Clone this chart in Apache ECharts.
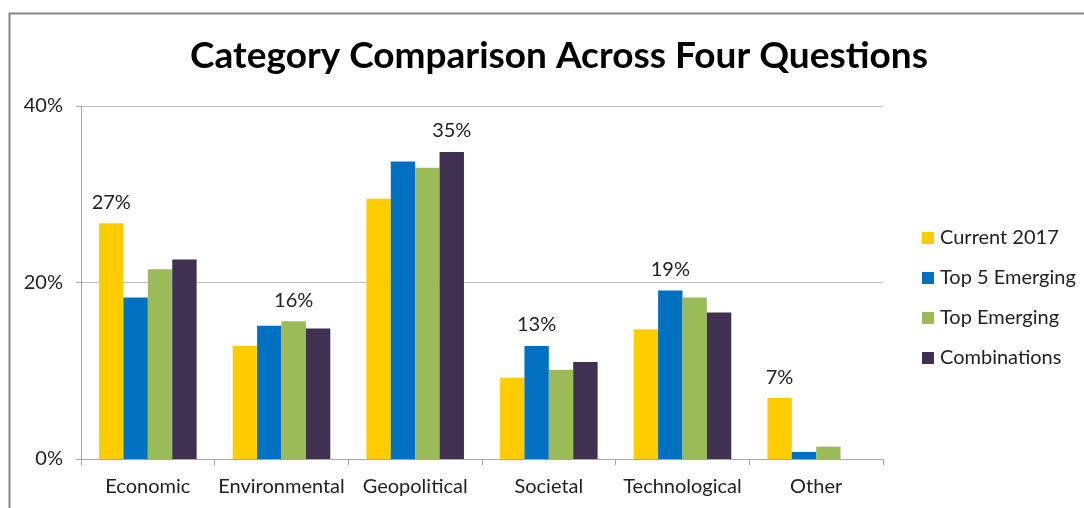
<!DOCTYPE html>
<html>
<head>
<meta charset="utf-8">
<script src="https://cdn.jsdelivr.net/npm/echarts@6/dist/echarts.min.js"></script>
<style>html,body{margin:0;padding:0;background:#fff;}#c{width:1084px;height:508px;}</style>
</head>
<body>
<div id="c"></div>
<script>
const categories = ['Economic', 'Environmental', 'Geopolitical', 'Societal', 'Technological', 'Other'];
const seriesNames = ['Current 2017', 'Top 5 Emerging', 'Top Emerging', 'Combinations'];
const current2017 = [26.7, 12.8, 29.5, 9.2, 14.7, 6.9];
const top5Emerging = [18.3, 15.1, 33.7, 12.8, 19.1, 0.8];
const topEmerging = [21.5, 15.6, 33.0, 10.1, 18.3, 1.4];
const combinations = [22.6, 14.8, 34.8, 11.0, 16.6, 0];
const yTicks = [0, 20, 40];

const colors = ['#FFCC00', '#0070C0', '#9BBB59', '#403151'];
const allSeries = [current2017, top5Emerging, topEmerging, combinations];
const FONT = 'Lato';

const maxIdx = categories.map((_, ci) => {
  let best = 0;
  allSeries.forEach((s, si) => { if (s[ci] > allSeries[best][ci]) best = si; });
  return best;
});

const chart = echarts.init(document.getElementById('c'), null, {renderer: 'canvas'});
chart.setOption({
  animation: false,
  backgroundColor: '#fff',
  color: colors,
  title: {
    text: 'Category Comparison Across Four Questions',
    left: 554, top: 33, textAlign: 'center',
    textStyle: {fontFamily: FONT, fontWeight: 'bold', fontSize: 37, color: '#000'}
  },
  graphic: [{
    type: 'polyline',
    shape: {points: [[9.5, 508], [9.5, 13.5], [1084, 13.5]]},
    style: {stroke: '#878787', lineWidth: 2, fill: null},
    silent: true
  }],
  legend: {
    orient: 'vertical', left: 917, top: 223, itemGap: 20,
    itemWidth: 12, itemHeight: 12, icon: 'rect',
    textStyle: {fontFamily: FONT, fontSize: 20, color: '#222', padding: [0, 0, 0, 1]},
    data: seriesNames
  },
  grid: {left: 81, right: 201, top: 106, bottom: 49, containLabel: false},
  xAxis: {
    type: 'category', data: categories,
    axisLine: {lineStyle: {color: '#A6A6A6', width: 1}},
    axisTick: {show: true, length: 6, lineStyle: {color: '#A6A6A6'}},
    axisLabel: {margin: 18, fontFamily: FONT, fontSize: 20, color: '#222', interval: 0}
  },
  yAxis: {
    type: 'value', min: yTicks[0], max: yTicks[yTicks.length - 1], interval: yTicks[1] - yTicks[0],
    axisLine: {show: true, lineStyle: {color: '#A6A6A6'}},
    axisTick: {show: true, length: 5, lineStyle: {color: '#A6A6A6'}},
    splitLine: {lineStyle: {color: '#BFBFBF'}},
    axisLabel: {margin: 18, fontFamily: FONT, fontSize: 20, color: '#222', formatter: '{value}%'}
  },
  series: allSeries.map((vals, si) => ({
    name: seriesNames[si], type: 'bar',
    barGap: '0%', barCategoryGap: '27%',
    data: vals.map((v, ci) => ({
      value: v,
      label: {
        show: maxIdx[ci] === si, position: 'top', distance: 11,
        fontFamily: FONT, fontSize: 20, color: '#222',
        formatter: p => Math.round(p.value) + '%'
      }
    }))
  }))
});
</script>
</body>
</html>
